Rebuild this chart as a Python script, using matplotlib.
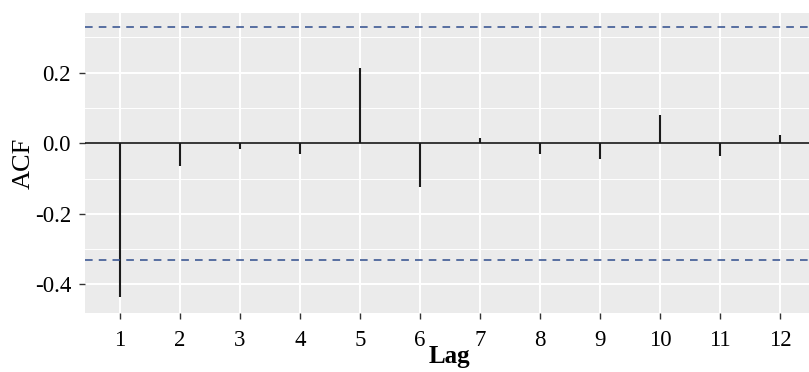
import numpy as np
import matplotlib.pyplot as plt

plt.rcParams['font.family'] = ['Liberation Serif', 'DejaVu Serif']

lags = [1, 2, 3, 4, 5, 6, 7, 8, 9, 10, 11, 12]
acf = [-0.437, -0.064, -0.015, -0.030, 0.214, -0.123, 0.016, -0.031, -0.044, 0.081, -0.037, 0.022]
conf = 0.33

fig = plt.figure(figsize=(8.09, 3.72), dpi=100)
# panel runs a little past the right edge, like the cropped original
ax = fig.add_axes([85 / 809, 1 - 313 / 372, 728 / 809, 300 / 372])
ax.set_facecolor('#EBEBEB')
for s in ax.spines.values():
    s.set_visible(False)

ax.set_xlim(0.42, 12.55)
ax.set_ylim(-0.481, 0.369)

ax.set_xticks(lags)
ax.set_yticks([-0.4, -0.2, 0.0, 0.2])
ax.set_yticklabels(['-0.4', '-0.2', '0.0', '0.2'])
ax.set_yticks([-0.3, -0.1, 0.1, 0.3], minor=True)
ax.grid(True, which='major', color='white', linewidth=1.4)
ax.grid(True, which='minor', axis='y', color='white', linewidth=0.7)
ax.set_axisbelow(True)
ax.tick_params(which='major', length=4, width=1, color='#333333', labelsize=16.5)
ax.tick_params(axis='x', pad=8)
ax.tick_params(axis='y', pad=6)
ax.tick_params(which='minor', length=0)

ax.axhline(0, color='black', linewidth=1.1)
ax.vlines(lags, 0, acf, color='#1a1a1a', linewidth=1.5)
ax.axhline(conf, color='#2F4C8C', linestyle=(0, (5, 4)), linewidth=1.1)
ax.axhline(-conf, color='#2F4C8C', linestyle=(0, (5, 4)), linewidth=1.1)

ax.set_xlabel('Lag', fontsize=18, fontweight='bold', labelpad=-4)
ax.set_ylabel('ACF', fontsize=19, labelpad=0)

plt.savefig('out.png', dpi=100)
